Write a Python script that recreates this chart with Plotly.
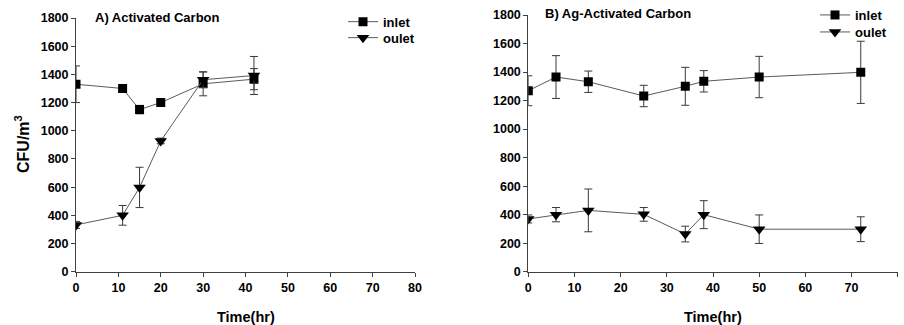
import plotly.graph_objects as go

# Panel A: Activated Carbon
a_inlet_t = [0, 11, 15, 20, 30, 42]
a_inlet_v = [1330, 1300, 1150, 1200, 1333, 1366]
a_inlet_e = [130, 15, 30, 15, 85, 75]
a_outlet_t = [0, 11, 15, 20, 30, 42]
a_outlet_v = [332, 400, 598, 928, 1362, 1392]
a_outlet_e = [25, 70, 143, 20, 55, 135]

# Panel B: Ag-Activated Carbon
b_inlet_t = [0, 6, 13, 25, 34, 38, 50, 72]
b_inlet_v = [1269, 1365, 1332, 1232, 1300, 1335, 1365, 1398]
b_inlet_e = [105, 150, 75, 75, 133, 75, 145, 218]
b_outlet_t = [0, 6, 13, 25, 34, 38, 50, 72]
b_outlet_v = [370, 400, 430, 402, 264, 400, 298, 298]
b_outlet_e = [28, 50, 150, 48, 55, 98, 100, 87]

x_ticks = [0, 10, 20, 30, 40, 50, 60, 70, 80]
y_ticks = [0, 200, 400, 600, 800, 1000, 1200, 1400, 1600, 1800]

FONT = "Liberation Sans, Arial, sans-serif"
LINE_C = "#5a5a5a"
ERR_C = "#3a3a3a"
W, H = 904, 325

fig = go.Figure()

def add_series(t, v, e, name, symbol, xa, ya, legend, size):
    fig.add_trace(go.Scatter(
        x=t, y=v, name=name, mode="lines+markers",
        line=dict(color=LINE_C, width=1),
        marker=dict(symbol=symbol, size=size, color="black"),
        error_y=dict(type="data", array=e, visible=True, color=ERR_C,
                     thickness=1, width=4),
        xaxis=xa, yaxis=ya, legend=legend,
    ))

add_series(a_inlet_t, a_inlet_v, a_inlet_e, "inlet", "square", "x", "y", "legend", 9)
add_series(a_outlet_t, a_outlet_v, a_outlet_e, "oulet", "triangle-down", "x", "y", "legend3", 11)
add_series(b_inlet_t, b_inlet_v, b_inlet_e, "inlet", "square", "x2", "y2", "legend2", 9)
add_series(b_outlet_t, b_outlet_v, b_outlet_e, "oulet", "triangle-down", "x2", "y2", "legend4", 11)

axis_common = dict(
    showline=True, linecolor="#404040", linewidth=1,
    ticks="outside", ticklen=4, tickcolor="#404040",
    showgrid=False, zeroline=False, automargin=False,
    tickfont=dict(family=FONT, size=12.5, color="black", weight="bold"),
)

def leg(xpx, ypx):
    return dict(x=xpx / W, y=1 - ypx / H, xanchor="left", yanchor="middle",
                bgcolor="rgba(0,0,0,0)", tracegroupgap=0, borderwidth=0,
                font=dict(family=FONT, size=13, color="black", weight="bold"))

fig.update_layout(
    width=W, height=H,
    margin=dict(l=0, r=0, t=0, b=0),
    paper_bgcolor="white", plot_bgcolor="white",
    font=dict(family=FONT, color="black"),
    xaxis=dict(domain=[76 / W, 415 / W], range=[0, 80], tickvals=x_ticks,
               anchor="y", **axis_common),
    yaxis=dict(domain=[1 - 271.7 / H, 1 - 18 / H], range=[0, 1800], tickvals=y_ticks,
               anchor="x", **axis_common),
    xaxis2=dict(domain=[528.3 / W, 897.7 / W], range=[0, 80], tickvals=x_ticks,
                anchor="y2", **axis_common),
    yaxis2=dict(domain=[1 - 271.7 / H, 1 - 15 / H], range=[0, 1800], tickvals=y_ticks,
                anchor="x2", **axis_common),
    legend=leg(343, 21.7),
    legend3=leg(343, 37.7),
    legend2=leg(815, 15),
    legend4=leg(815, 32),
    showlegend=True,
)

annots = [
    dict(text="A) Activated Carbon", x=93 / W, y=1 - 18 / H, xanchor="left", yanchor="middle"),
    dict(text="B) Ag-Activated Carbon", x=543 / W, y=1 - 13.5 / H, xanchor="left", yanchor="middle"),
]
for a in annots:
    fig.add_annotation(xref="paper", yref="paper", showarrow=False,
                       font=dict(family=FONT, size=13, color="black", weight="bold"), **a)

for cx in (246, 713):
    fig.add_annotation(xref="paper", yref="paper", showarrow=False,
                       text="Time(hr)", x=cx / W, y=1 - 317 / H, xanchor="center", yanchor="middle",
                       font=dict(family=FONT, size=14.5, color="black", weight="bold"))
fig.add_annotation(xref="paper", yref="paper", showarrow=False,
                   text="CFU/m<sup>3</sup>", x=22 / W, y=1 - 144 / H, xanchor="center", yanchor="middle",
                   textangle=-90,
                   font=dict(family=FONT, size=16, color="black", weight="bold"))

fig.write_html("out.html", config={"displayModeBar": False},
               post_script="document.body.style.margin='0';document.body.style.overflow='hidden';")
